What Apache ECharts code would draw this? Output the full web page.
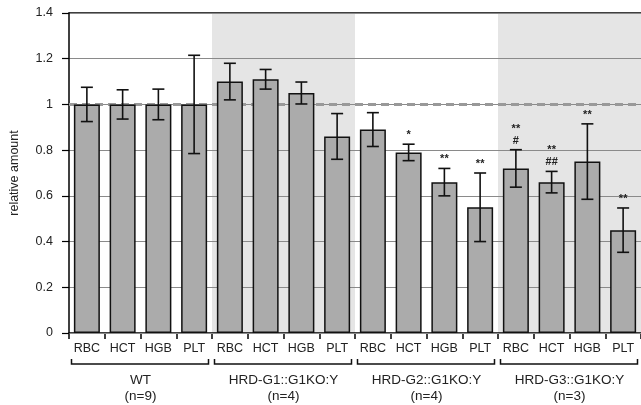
<!DOCTYPE html>
<html>
<head>
<meta charset="utf-8">
<script src="https://cdn.jsdelivr.net/npm/echarts@6/dist/echarts.min.js"></script>
<style>
html,body{margin:0;padding:0;background:#fff;}
#chart{width:641px;height:405px;}
</style>
</head>
<body>
<div id="chart"></div>
<script>
// ---- data ----
var groups = ['WT', 'HRD-G1::G1KO:Y', 'HRD-G2::G1KO:Y', 'HRD-G3::G1KO:Y'];
var groupN = ['(n=9)', '(n=4)', '(n=4)', '(n=3)'];
var params = ['RBC', 'HCT', 'HGB', 'PLT'];
var means = [1.00, 1.00, 1.00, 1.00,
             1.10, 1.11, 1.05, 0.86,
             0.89, 0.79, 0.66, 0.55,
             0.72, 0.66, 0.75, 0.45];
var errs  = [0.075, 0.064, 0.067, 0.215,
             0.080, 0.043, 0.048, 0.100,
             0.074, 0.036, 0.060, 0.150,
             0.082, 0.047, 0.165, 0.097];
var sig1  = ['', '', '', '',
             '', '', '', '',
             '', '*', '**', '**',
             '**', '**', '**', '**'];
var sig2  = ['', '', '', '',
             '', '', '', '',
             '', '', '', '',
             '#', '##', '', ''];
var yTicks = [0, 0.2, 0.4, 0.6, 0.8, 1, 1.2, 1.4];
var refLevel = 1;

// ---- build ----
var cats = [];
var shade = [];
groups.forEach(function (g, gi) {
  params.forEach(function (p) {
    cats.push(gi + '|' + p);
    shade.push(gi % 2 === 1 ? '#e5e5e5' : 'rgba(255,255,255,0)');
  });
});
var errData = means.map(function (m, i) { return [i, m, errs[i]]; });
var sigData = means.map(function (m, i) { return [i, m + errs[i], sig1[i], sig2[i]]; });
var brData = groups.map(function (g, gi) { return [gi * 4, gi * 4 + 3, gi]; });

var FONT = '"Liberation Sans", Arial, sans-serif';
var TXT = '#222';

var chart = echarts.init(document.getElementById('chart'), null, {renderer: 'canvas'});
chart.setOption({
  animation: false,
  backgroundColor: '#fff',
  grid: {left: 69, top: 13, width: 574, bottom: 72},
  xAxis: [{
    type: 'category',
    data: cats,
    boundaryGap: true,
    axisLine: {show: true, lineStyle: {color: '#000', width: 1.5}},
    axisTick: {show: true, length: 6, lineStyle: {color: '#000', width: 1.5}},
    axisLabel: {
      formatter: function (v) { return v.split('|')[1]; },
      color: TXT, fontFamily: FONT, fontSize: 12.5, margin: 9, interval: 0
    },
    splitLine: {show: false},
    splitArea: {show: true, areaStyle: {color: shade}}
  }, {
    type: 'category',
    data: cats,
    position: 'top',
    axisLine: {show: true, lineStyle: {color: '#000', width: 1.5}},
    axisTick: {show: false},
    axisLabel: {show: false},
    splitLine: {show: false}
  }],
  yAxis: {
    type: 'value',
    min: 0, max: 1.4, interval: 0.2,
    z: 1,
    name: 'relative amount',
    nameLocation: 'middle',
    nameGap: 48,
    nameTextStyle: {color: TXT, fontFamily: FONT, fontSize: 12.5},
    axisLine: {show: true, lineStyle: {color: '#000', width: 1.5}},
    axisTick: {show: true, length: 7, lineStyle: {color: '#000', width: 1.2}},
    axisLabel: {color: TXT, fontFamily: FONT, fontSize: 12.5, margin: 16,
      formatter: function (v) { return String(Math.round(v * 10) / 10); }},
    splitLine: {show: true, lineStyle: {color: '#8a8a8a', width: 1}}
  },
  series: [{
    type: 'custom',
    data: [[0, refLevel]],
    z: 1.5,
    silent: true,
    renderItem: function (params, api) {
      var band = api.size([1, 0])[0];
      var p0 = api.coord([0, api.value(1)]);
      var p1 = api.coord([cats.length - 1, api.value(1)]);
      return {type: 'line',
        shape: {x1: p0[0] - band / 2, y1: p0[1], x2: p1[0] + band / 2, y2: p1[1]},
        style: {stroke: '#999999', lineWidth: 3, lineDash: [8, 5]}};
    }
  }, {
    type: 'bar',
    data: means,
    barWidth: 26,
    itemStyle: {color: '#ababab', borderColor: '#111', borderWidth: 1.5},
    z: 2
  }, {
    type: 'custom',
    data: errData,
    z: 4,
    renderItem: function (params, api) {
      var i = api.value(0), m = api.value(1), e = api.value(2);
      var top = api.coord([i, m + e]);
      var bot = api.coord([i, m - e]);
      var cw = 6;
      var st = {stroke: '#111', lineWidth: 1.6};
      return {type: 'group', children: [
        {type: 'line', shape: {x1: top[0], y1: top[1], x2: bot[0], y2: bot[1]}, style: st},
        {type: 'line', shape: {x1: top[0] - cw, y1: top[1], x2: top[0] + cw, y2: top[1]}, style: st},
        {type: 'line', shape: {x1: bot[0] - cw, y1: bot[1], x2: bot[0] + cw, y2: bot[1]}, style: st}
      ]};
    }
  }, {
    type: 'custom',
    data: sigData,
    z: 5,
    renderItem: function (params, api) {
      var i = api.value(0), t = api.value(1);
      var p = api.coord([i, t]);
      var s1 = sigData[params.dataIndex][2], s2 = sigData[params.dataIndex][3];
      var kids = [];
      var y1 = s2 ? p[1] - 21 : p[1] - 9;
      if (s1) kids.push({type: 'text', x: p[0], y: y1, style: {text: s1, fill: TXT,
        font: 'bold 11px ' + FONT, align: 'center', verticalAlign: 'middle'}});
      if (s2) kids.push({type: 'text', x: p[0], y: p[1] - 9, style: {text: s2, fill: TXT,
        font: 'bold 11px ' + FONT, align: 'center', verticalAlign: 'middle'}});
      return {type: 'group', children: kids};
    }
  }, {
    type: 'custom',
    data: brData,
    clip: false,
    silent: true,
    z: 5,
    renderItem: function (params, api) {
      var a = api.value(0), b = api.value(1), gi = api.value(2);
      var band = api.size([1, 0])[0];
      var pa = api.coord([a, 0]), pb = api.coord([b, 0]);
      var x0 = pa[0] - band / 2 + 2.5, x1 = pb[0] + band / 2 - 3.5;
      var yb = pa[1] + 31, ye = pa[1] + 26;
      var cx = (pa[0] + pb[0]) / 2;
      return {type: 'group', children: [
        {type: 'polyline', shape: {points: [[x0, ye], [x0, yb], [x1, yb], [x1, ye]]},
          style: {stroke: '#111', lineWidth: 1.5, fill: null}},
        {type: 'text', x: cx, y: pa[1] + 47, style: {text: groups[gi], fill: TXT,
          font: '13.5px ' + FONT, align: 'center', verticalAlign: 'middle'}},
        {type: 'text', x: cx, y: pa[1] + 63, style: {text: groupN[gi], fill: TXT,
          font: '13.5px ' + FONT, align: 'center', verticalAlign: 'middle'}}
      ]};
    }
  }]
});
</script>
</body>
</html>
